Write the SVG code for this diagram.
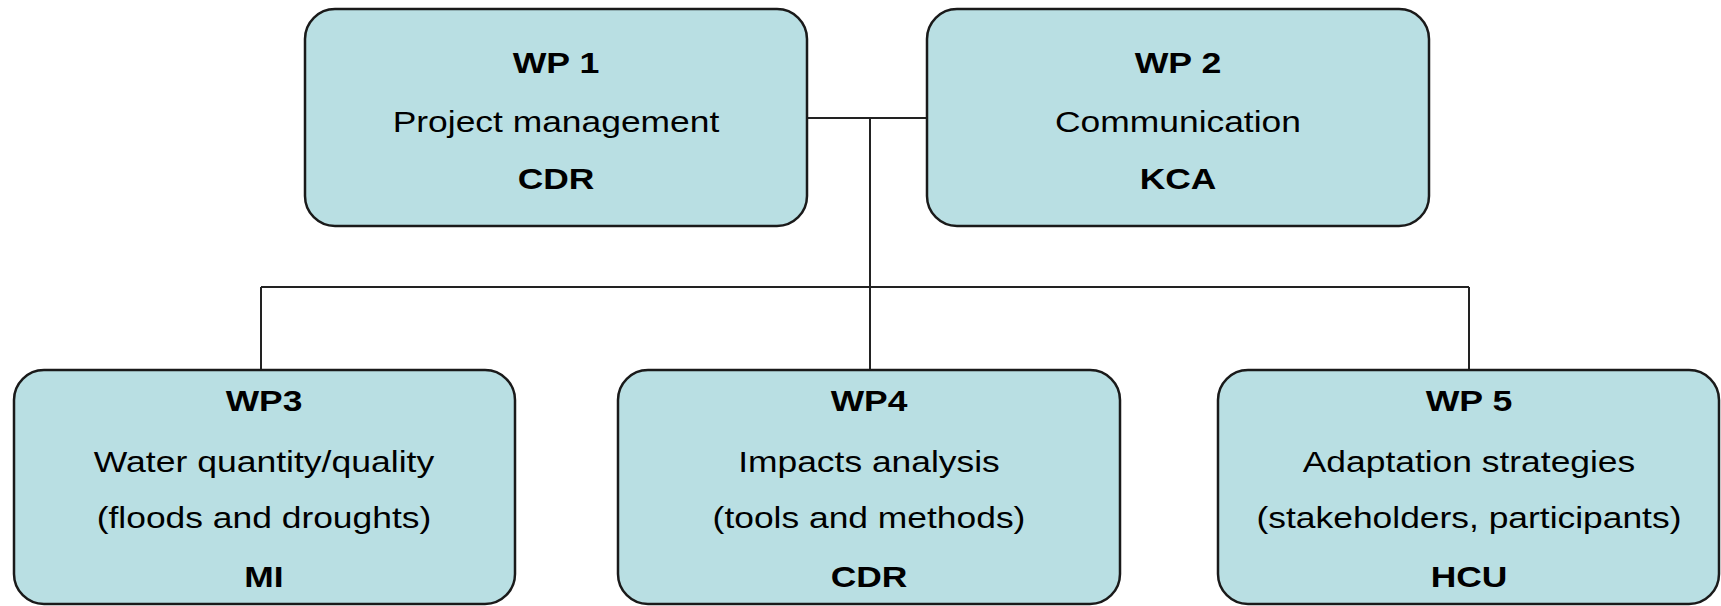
<svg xmlns="http://www.w3.org/2000/svg" width="1721" height="606" viewBox="0 0 1721 606">
<style>
.box{fill:#B9DFE3;stroke:#1a1a1a;stroke-width:2.5}
.t{font-family:"Liberation Sans",Arial,sans-serif;font-size:30px;fill:#000;text-anchor:middle}
.b{font-weight:bold}
.conn{stroke:#222;stroke-width:2;fill:none}
</style>
<rect width="1721" height="606" fill="#fff"/>
<g id="connectors">
<line class="conn" x1="807" y1="118" x2="927" y2="118"/>
<line class="conn" x1="870" y1="118" x2="870" y2="370"/>
<line class="conn" x1="261" y1="287" x2="1469" y2="287"/>
<line class="conn" x1="261" y1="287" x2="261" y2="370"/>
<line class="conn" x1="1469" y1="287" x2="1469" y2="370"/>
</g>
<g id="wp1">
<rect class="box" x="305" y="9" width="502" height="217" rx="30"/>
<text class="t b" x="556" y="73" textLength="86.6" lengthAdjust="spacingAndGlyphs">WP 1</text>
<text class="t" x="556" y="132" textLength="326.6" lengthAdjust="spacingAndGlyphs">Project management</text>
<text class="t b" x="556" y="189" textLength="76.7" lengthAdjust="spacingAndGlyphs">CDR</text>
</g>
<g id="wp2">
<rect class="box" x="927" y="9" width="502" height="217" rx="30"/>
<text class="t b" x="1178" y="73" textLength="86.6" lengthAdjust="spacingAndGlyphs">WP 2</text>
<text class="t" x="1178" y="132" textLength="245.9" lengthAdjust="spacingAndGlyphs">Communication</text>
<text class="t b" x="1178" y="189" textLength="76.7" lengthAdjust="spacingAndGlyphs">KCA</text>
</g>
<g id="wp3">
<rect class="box" x="14" y="370" width="501" height="234" rx="30"/>
<text class="t b" x="264" y="411" textLength="76.7" lengthAdjust="spacingAndGlyphs">WP3</text>
<text class="t" x="264" y="472" textLength="340.4" lengthAdjust="spacingAndGlyphs">Water quantity/quality</text>
<text class="t" x="264" y="528" textLength="334.5" lengthAdjust="spacingAndGlyphs">(floods and droughts)</text>
<text class="t b" x="264" y="587" textLength="39.3" lengthAdjust="spacingAndGlyphs">MI</text>
</g>
<g id="wp4">
<rect class="box" x="618" y="370" width="502" height="234" rx="30"/>
<text class="t b" x="869" y="411" textLength="76.7" lengthAdjust="spacingAndGlyphs">WP4</text>
<text class="t" x="869" y="472" textLength="261.6" lengthAdjust="spacingAndGlyphs">Impacts analysis</text>
<text class="t" x="869" y="528" textLength="312.8" lengthAdjust="spacingAndGlyphs">(tools and methods)</text>
<text class="t b" x="869" y="587" textLength="76.7" lengthAdjust="spacingAndGlyphs">CDR</text>
</g>
<g id="wp5">
<rect class="box" x="1218" y="370" width="501" height="234" rx="30"/>
<text class="t b" x="1469" y="411" textLength="86.6" lengthAdjust="spacingAndGlyphs">WP 5</text>
<text class="t" x="1469" y="472" textLength="332.5" lengthAdjust="spacingAndGlyphs">Adaptation strategies</text>
<text class="t" x="1469" y="528" textLength="424.9" lengthAdjust="spacingAndGlyphs">(stakeholders, participants)</text>
<text class="t b" x="1469" y="587" textLength="76.7" lengthAdjust="spacingAndGlyphs">HCU</text>
</g>
</svg>
